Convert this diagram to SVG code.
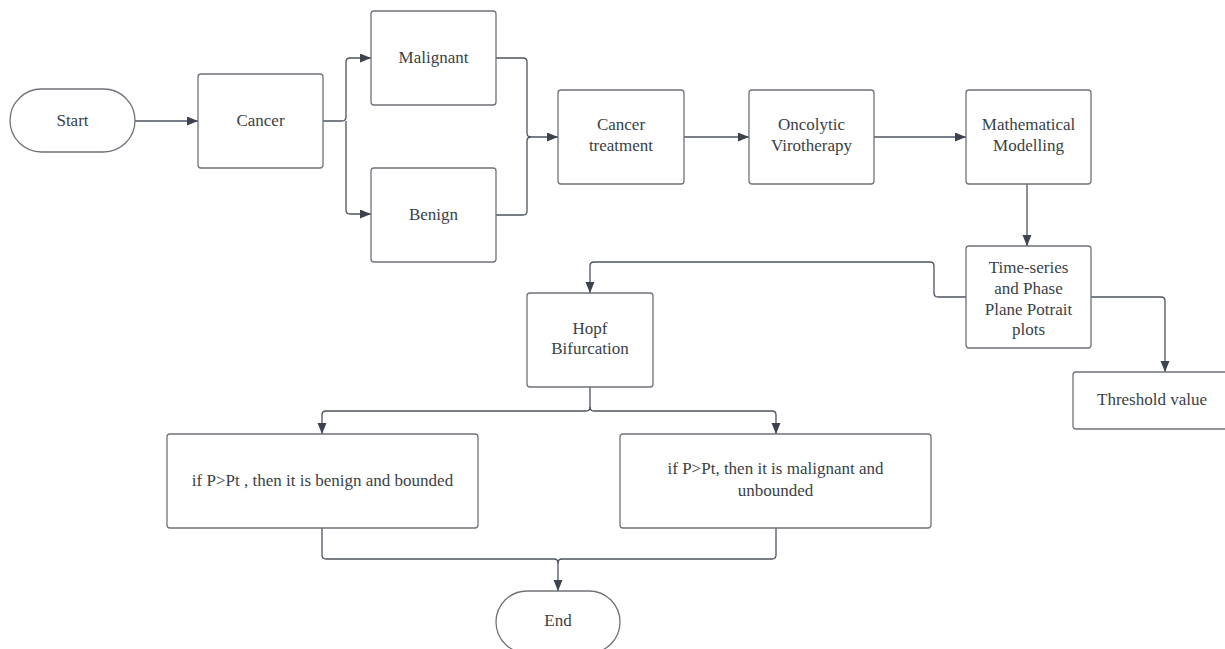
<svg xmlns="http://www.w3.org/2000/svg" width="1225" height="649" viewBox="0 0 1225 649">
<style>
.box{fill:#ffffff;stroke:#6e737a;stroke-width:1.3}
.t{font-family:"Liberation Serif","Times New Roman",serif;font-size:17px;fill:#3a3f47;text-anchor:middle}
.c{fill:none;stroke:#4d5360;stroke-width:1.3;stroke-linejoin:round}
</style>
<defs>
<marker id="ah" markerUnits="userSpaceOnUse" markerWidth="12" markerHeight="10" refX="11" refY="4.5" orient="auto">
<path d="M0,0 L11,4.5 L0,9 z" fill="#3d434e"/>
</marker>
</defs>
<rect width="1225" height="649" fill="#ffffff"/>
<g id="connectors">
<path class="c" d="M135 121 H198" marker-end="url(#ah)"/>
<path class="c" d="M323 121 H342 Q346 121 346 117 V62 Q346 58 350 58 H371" marker-end="url(#ah)"/>
<path class="c" d="M346 121 V210 Q346 214 350 214 H371" marker-end="url(#ah)"/>
<path class="c" d="M496 58 H523 Q527 58 527 62 V133 Q527 137 531 137 H558" marker-end="url(#ah)"/>
<path class="c" d="M496 215 H523 Q527 215 527 211 V141 Q527 137 531 137"/>
<path class="c" d="M684 137 H749" marker-end="url(#ah)"/>
<path class="c" d="M874 137 H966" marker-end="url(#ah)"/>
<path class="c" d="M1027 184 V246" marker-end="url(#ah)"/>
<path class="c" d="M966 297 H938 Q934 297 934 293 V266 Q934 262 930 262 H594 Q590 262 590 266 V293" marker-end="url(#ah)"/>
<path class="c" d="M1091 297 H1161 Q1165 297 1165 301 V372" marker-end="url(#ah)"/>
<path class="c" d="M590 387 V407 Q590 411 586 411 H326 Q322 411 322 415 V434" marker-end="url(#ah)"/>
<path class="c" d="M590 407 Q590 411 594 411 H772 Q776 411 776 415 V434" marker-end="url(#ah)"/>
<path class="c" d="M322 528 V555 Q322 559 326 559 H554 Q558 559 558 563 V591" marker-end="url(#ah)"/>
<path class="c" d="M776 528 V555 Q776 559 772 559 H562 Q558 559 558 563"/>
</g>
<g id="start"><rect class="box" x="10" y="89" width="125" height="63" rx="31.5"/><text class="t" x="72.5" y="126">Start</text></g>
<g id="cancer"><rect class="box" x="198" y="74" width="125" height="94" rx="3"/><text class="t" x="260.5" y="126">Cancer</text></g>
<g id="malignant"><rect class="box" x="371" y="11" width="125" height="94" rx="3"/><text class="t" x="433.5" y="63">Malignant</text></g>
<g id="benign"><rect class="box" x="371" y="168" width="125" height="94" rx="3"/><text class="t" x="433.5" y="220">Benign</text></g>
<g id="treatment"><rect class="box" x="558" y="90" width="126" height="94" rx="3"/><text class="t" x="621" y="130">Cancer</text><text class="t" x="621" y="151">treatment</text></g>
<g id="oncolytic"><rect class="box" x="749" y="90" width="125" height="94" rx="3"/><text class="t" x="811.5" y="130">Oncolytic</text><text class="t" x="811.5" y="151">Virotherapy</text></g>
<g id="modelling"><rect class="box" x="966" y="90" width="125" height="94" rx="3"/><text class="t" x="1028.5" y="130">Mathematical</text><text class="t" x="1028.5" y="151">Modelling</text></g>
<g id="timeseries"><rect class="box" x="966" y="246" width="125" height="102" rx="3"/><text class="t" x="1028.5" y="273">Time-series</text><text class="t" x="1028.5" y="294">and Phase</text><text class="t" x="1028.5" y="315">Plane Potrait</text><text class="t" x="1028.5" y="335">plots</text></g>
<g id="threshold"><rect class="box" x="1073" y="372" width="158" height="57" rx="3"/><text class="t" x="1152" y="405">Threshold value</text></g>
<g id="hopf"><rect class="box" x="527" y="293" width="126" height="94" rx="3"/><text class="t" x="590" y="334">Hopf</text><text class="t" x="590" y="354">Bifurcation</text></g>
<g id="benign-bounded"><rect class="box" x="167" y="434" width="311" height="94" rx="3"/><text class="t" x="322.5" y="486">if P&gt;Pt , then it is benign and bounded</text></g>
<g id="malignant-unbounded"><rect class="box" x="620" y="434" width="311" height="94" rx="3"/><text class="t" x="775.5" y="474">if P&gt;Pt, then it is malignant and</text><text class="t" x="775.5" y="496">unbounded</text></g>
<g id="end"><rect class="box" x="496" y="591" width="124" height="62" rx="31"/><text class="t" x="558" y="626">End</text></g>
</svg>
